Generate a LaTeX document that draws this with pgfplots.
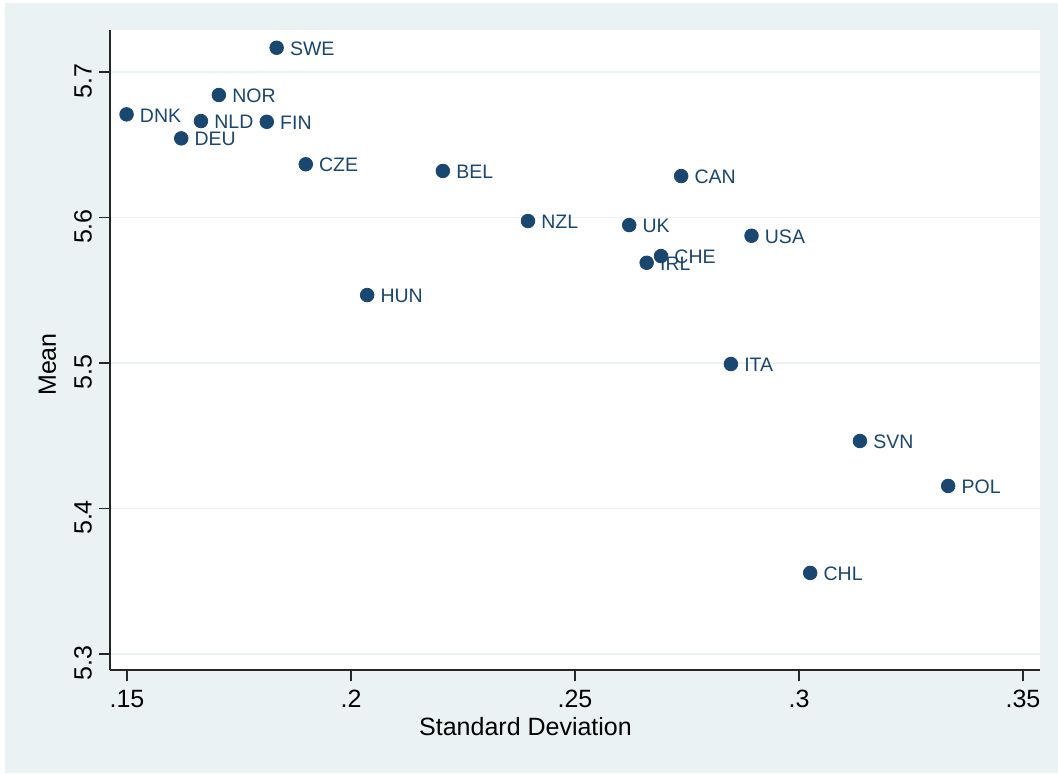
\documentclass[border=0pt]{standalone}
\usepackage{pgfplots}
\pgfplotsset{compat=1.18}
\usepackage{fontspec}
\setmainfont{Liberation Sans}
\definecolor{bg}{RGB}{234,242,243}
\definecolor{navy}{RGB}{26,71,111}
\pgfplotstableread{
lab x y
SWE 0.1834 5.7167
NOR 0.1705 5.6842
DNK 0.1499 5.6709
NLD 0.1665 5.6663
FIN 0.1812 5.6658
DEU 0.1621 5.6544
CZE 0.1899 5.6366
BEL 0.2205 5.6320
CAN 0.2737 5.6285
NZL 0.2395 5.5976
UK 0.2621 5.5948
USA 0.2894 5.5875
CHE 0.2692 5.5735
IRL 0.2660 5.5689
HUN 0.2036 5.5467
ITA 0.2848 5.4993
SVN 0.3136 5.4464
POL 0.3333 5.4155
CHL 0.3025 5.3557
}\datatable
\begin{document}
\begin{tikzpicture}[x=1pt,y=1pt]
\useasboundingbox (0,0) rectangle (529,387);
\fill[white] (0,0) rectangle (529,387);
\fill[bg] (2.5,0.5) rectangle (529,385.5);
\begin{axis}[
  at={(55pt,52pt)}, anchor=south west,
  scale only axis, width=465pt, height=320pt,
  xmin=0.1462, xmax=0.3538, ymin=5.289, ymax=5.7289,
  axis x line*=bottom, axis y line*=left,
  axis line style={-, line width=0.75pt, black!85},
  axis background/.style={fill=white},
  tick align=outside, major tick length=5.5pt,
  tick style={line width=0.75pt, black!85},
  xtick={0.15,0.2,0.25,0.3,0.35}, xticklabels={.15,.2,.25,.3,.35},
  ytick={5.3,5.4,5.5,5.6,5.7}, yticklabels={5.3,5.4,5.5,5.6,5.7},
  ymajorgrids, major grid style={bg, line width=0.75pt},
  ticklabel style={font=\fontsize{12.5}{15}\selectfont},
  xticklabel style={yshift=-1pt},
  yticklabel style={rotate=90, anchor=south, xshift=-4.5pt},
  xlabel={Standard Deviation}, ylabel={Mean},
  label style={font=\fontsize{12.5}{15}\selectfont},
  xlabel style={at={(axis description cs:0.4468,-0.1016)}, anchor=base},
  ylabel style={at={(axis description cs:-0.0581,0.4773)}, anchor=base},
  clip=false,
]
\addplot[only marks, mark=*, mark size=3.4pt, navy,
  mark options={fill=navy, draw=navy},
  nodes near coords, point meta=explicit symbolic,
  nodes near coords align={anchor=west},
  every node near coord/.append style={anchor=west, inner sep=0pt, xshift=6.5pt, yshift=-0.5pt, text=navy, font=\fontsize{9.75}{11}\selectfont}]
  table[x=x, y=y, meta=lab] {\datatable};
\end{axis}
\end{tikzpicture}
\end{document}
